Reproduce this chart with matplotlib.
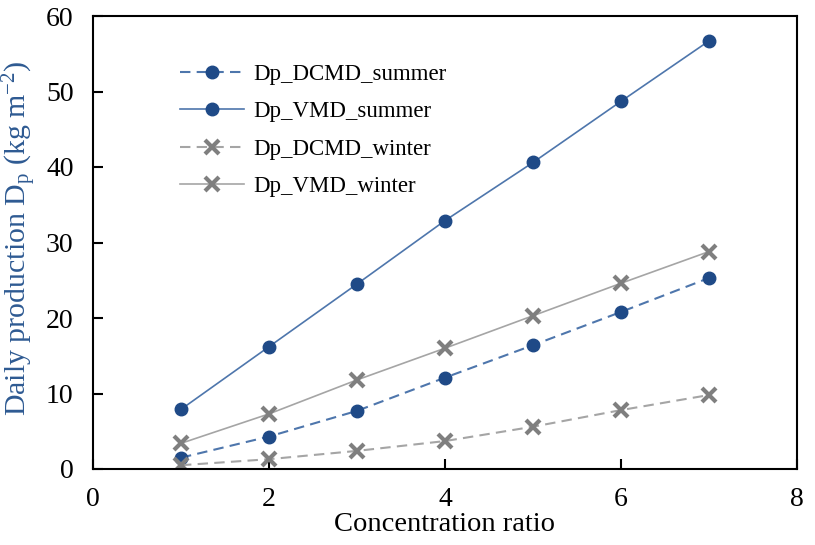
import matplotlib
matplotlib.use("Agg")
import matplotlib.pyplot as plt

plt.rcParams['font.family'] = ['Liberation Serif', 'DejaVu Serif']
plt.rcParams['mathtext.fontset'] = 'custom'
plt.rcParams['mathtext.rm'] = 'Liberation Serif'
plt.rcParams['mathtext.it'] = 'Liberation Serif:italic'

x = [1, 2, 3, 4, 5, 6, 7]
dcmd_summer = [1.5, 4.3, 7.7, 12.1, 16.4, 20.8, 25.3]
vmd_summer = [7.9, 16.2, 24.5, 32.9, 40.6, 48.7, 56.7]
dcmd_winter = [0.5, 1.3, 2.4, 3.7, 5.6, 7.8, 9.8]
vmd_winter = [3.4, 7.3, 11.8, 16.0, 20.3, 24.6, 28.8]
labels = ["Dp_DCMD_summer", "Dp_VMD_summer", "Dp_DCMD_winter", "Dp_VMD_winter"]

fig = plt.figure(figsize=(8.15, 5.45), dpi=100)
ax = fig.add_axes([93/815, 1-469/545, (797-93)/815, (469-16)/545])

blue_line = '#4E76AC'
blue_mk = '#1F4A87'
gray_line = '#A5A5A5'
gray_mk = '#7F7F7F'

ax.plot(x, dcmd_summer, linestyle=(0, (5, 3)), color=blue_line, lw=1.5,
        marker='o', ms=9, mfc=blue_mk, mec=blue_mk, label=labels[0])
ax.plot(x, vmd_summer, linestyle='-', color=blue_line, lw=1.2,
        marker='o', ms=9, mfc=blue_mk, mec=blue_mk, label=labels[1])
ax.plot(x, dcmd_winter, linestyle=(0, (5, 3)), color=gray_line, lw=1.5,
        marker='x', ms=10, mew=3, mfc=gray_mk, mec=gray_mk, label=labels[2])
ax.plot(x, vmd_winter, linestyle='-', color=gray_line, lw=1.2,
        marker='x', ms=10, mew=3, mfc=gray_mk, mec=gray_mk, label=labels[3])

ax.set_xlim(0, 8)
ax.set_ylim(0, 60)
ax.set_xticks([0, 2, 4, 6, 8])
ax.set_yticks([0, 10, 20, 30, 40, 50, 60])
ax.tick_params(direction='in', labelsize=20, length=7, width=1.5)
ax.tick_params(axis='x', pad=13)
ax.tick_params(axis='y', pad=14)
for s in ax.spines.values():
    s.set_linewidth(1.5)

ax.set_xlabel('Concentration ratio', fontsize=20.5, labelpad=0)
ax.set_ylabel('Daily production D$_\\mathrm{p}$ (kg m$^{\\mathrm{-2}}$)', fontsize=21.5,
              color='#2E5A92')
ax.yaxis.set_label_coords(-0.076, 0.51)

leg = ax.legend(loc='upper left', bbox_to_anchor=(0.11, 0.915), frameon=False,
                fontsize=16.5, handlelength=2.8, handletextpad=0.4, labelspacing=0.72,
                borderaxespad=0)

fig.savefig('out.png', dpi=100)
